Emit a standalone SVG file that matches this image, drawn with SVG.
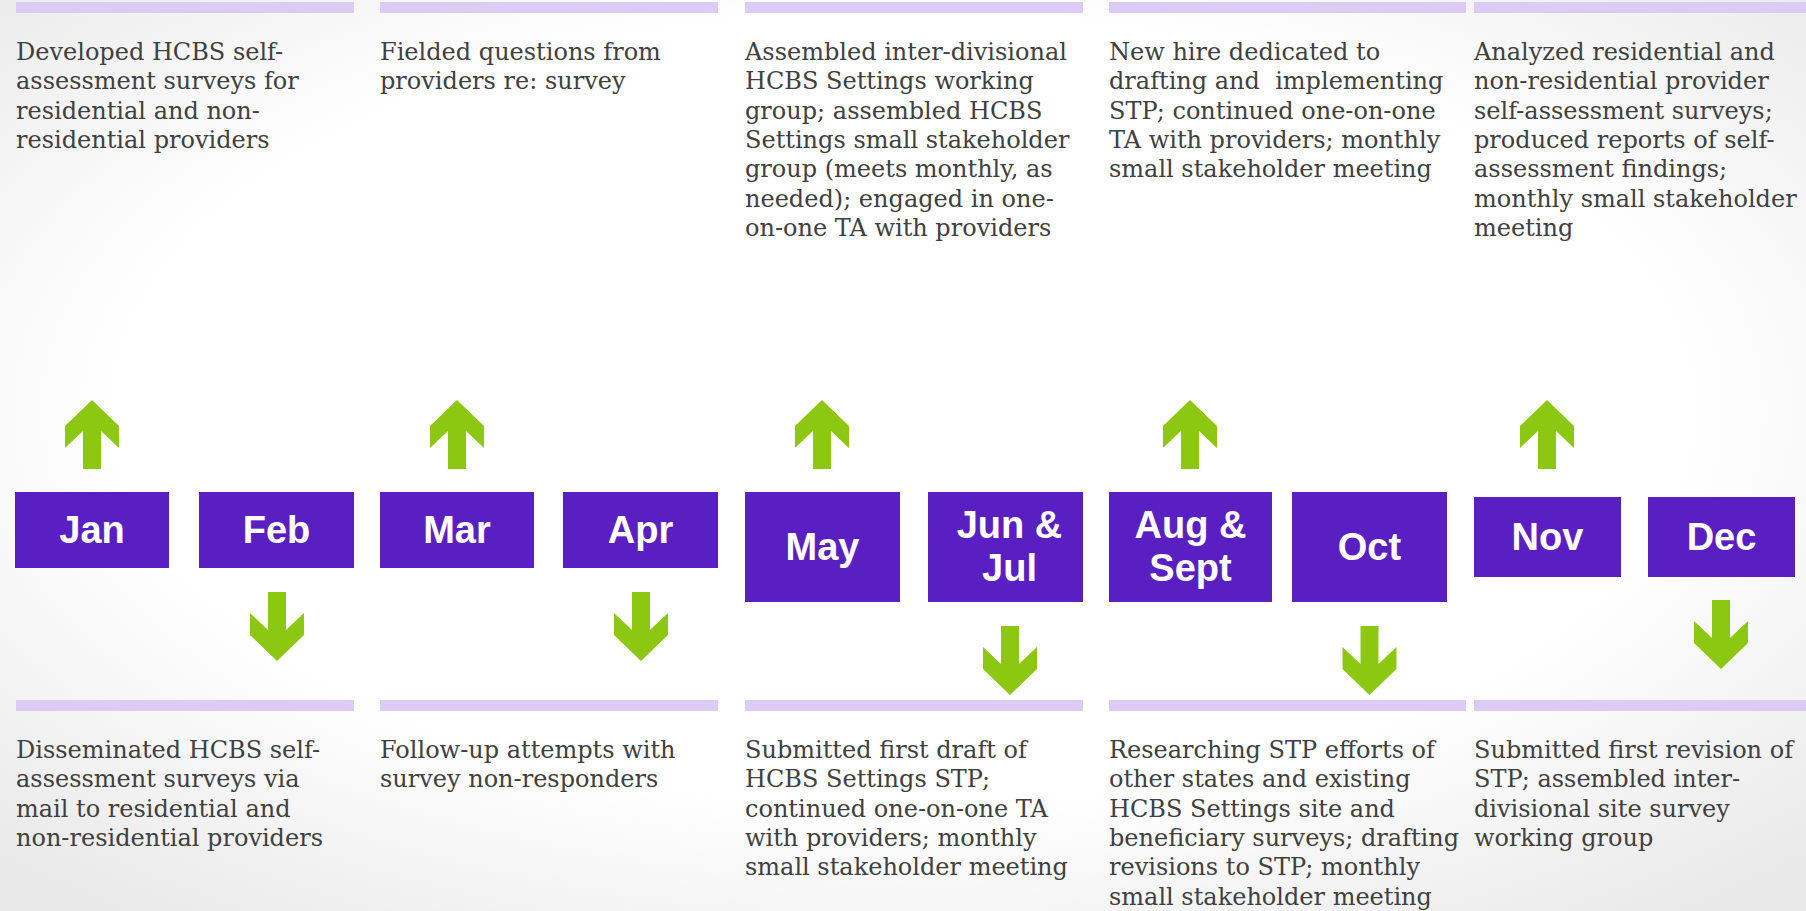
<svg xmlns="http://www.w3.org/2000/svg" width="1806" height="911" viewBox="0 0 1806 911">
<defs>
<radialGradient id="bg" cx="50%" cy="45%" r="70%">
<stop offset="0" stop-color="#ffffff"/>
<stop offset="0.62" stop-color="#ffffff"/>
<stop offset="1" stop-color="#e9e9e9"/>
</radialGradient>
<path id="up" d="M0,0 L27,26 L27,48 L9,31 L9,69 L-9,69 L-9,31 L-27,48 L-27,26 Z"/>
<path id="down" d="M-9,0 L9,0 L9,38 L27,21 L27,43 L0,69 L-27,43 L-27,21 L-9,38 Z"/>
</defs>
<style>
.bar{fill:#dccbf4}
.box{fill:#5a1fc2}
.mon{font-family:"Liberation Sans",Arial,sans-serif;font-weight:bold;font-size:38px;fill:#ffffff;text-anchor:middle}
.desc{font-family:"DejaVu Serif","Liberation Serif",serif;font-size:24px;fill:#404040}
.arr{fill:#8cc812}
</style>
<rect x="0" y="0" width="1806" height="911" fill="url(#bg)"/>

<g id="bars">
<rect class="bar" x="16" y="2" width="338" height="11"/>
<rect class="bar" x="380" y="2" width="338" height="11"/>
<rect class="bar" x="745" y="2" width="338" height="11"/>
<rect class="bar" x="1109" y="2" width="357" height="11"/>
<rect class="bar" x="1474" y="2" width="332" height="11"/>
<rect class="bar" x="16" y="700" width="338" height="11"/>
<rect class="bar" x="380" y="700" width="338" height="11"/>
<rect class="bar" x="745" y="700" width="338" height="11"/>
<rect class="bar" x="1109" y="700" width="357" height="11"/>
<rect class="bar" x="1474" y="700" width="332" height="11"/>
</g>

<g id="top-jan" class="desc">
<text x="16" y="60">Developed HCBS self-</text>
<text x="16" y="89.3">assessment surveys for</text>
<text x="16" y="118.6">residential and non-</text>
<text x="16" y="147.9">residential providers</text>
</g>
<g id="top-mar" class="desc">
<text x="380" y="60">Fielded questions from</text>
<text x="380" y="89.3">providers re: survey</text>
</g>
<g id="top-may" class="desc">
<text x="745" y="60">Assembled inter-divisional</text>
<text x="745" y="89.3">HCBS Settings working</text>
<text x="745" y="118.6">group; assembled HCBS</text>
<text x="745" y="147.9">Settings small stakeholder</text>
<text x="745" y="177.2">group (meets monthly, as</text>
<text x="745" y="206.5">needed); engaged in one-</text>
<text x="745" y="235.8">on-one TA with providers</text>
</g>
<g id="top-aug" class="desc">
<text x="1109" y="60">New hire dedicated to</text>
<text x="1109" y="89.3" xml:space="preserve">drafting and  implementing</text>
<text x="1109" y="118.6">STP; continued one-on-one</text>
<text x="1109" y="147.9">TA with providers; monthly</text>
<text x="1109" y="177.2">small stakeholder meeting</text>
</g>
<g id="top-nov" class="desc">
<text x="1474" y="60">Analyzed residential and</text>
<text x="1474" y="89.3">non-residential provider</text>
<text x="1474" y="118.6">self-assessment surveys;</text>
<text x="1474" y="147.9">produced reports of self-</text>
<text x="1474" y="177.2">assessment findings;</text>
<text x="1474" y="206.5">monthly small stakeholder</text>
<text x="1474" y="235.8">meeting</text>
</g>

<g id="bottom-feb" class="desc">
<text x="16" y="758">Disseminated HCBS self-</text>
<text x="16" y="787.3">assessment surveys via</text>
<text x="16" y="816.6">mail to residential and</text>
<text x="16" y="845.9">non-residential providers</text>
</g>
<g id="bottom-apr" class="desc">
<text x="380" y="758">Follow-up attempts with</text>
<text x="380" y="787.3">survey non-responders</text>
</g>
<g id="bottom-jun" class="desc">
<text x="745" y="758">Submitted first draft of</text>
<text x="745" y="787.3">HCBS Settings STP;</text>
<text x="745" y="816.6">continued one-on-one TA</text>
<text x="745" y="845.9">with providers; monthly</text>
<text x="745" y="875.2">small stakeholder meeting</text>
</g>
<g id="bottom-oct" class="desc">
<text x="1109" y="758">Researching STP efforts of</text>
<text x="1109" y="787.3">other states and existing</text>
<text x="1109" y="816.6">HCBS Settings site and</text>
<text x="1109" y="845.9">beneficiary surveys; drafting</text>
<text x="1109" y="875.2">revisions to STP; monthly</text>
<text x="1109" y="904.5">small stakeholder meeting</text>
</g>
<g id="bottom-dec" class="desc">
<text x="1474" y="758">Submitted first revision of</text>
<text x="1474" y="787.3">STP; assembled inter-</text>
<text x="1474" y="816.6">divisional site survey</text>
<text x="1474" y="845.9">working group</text>
</g>

<g id="month-jan"><rect class="box" x="15" y="492" width="154" height="76"/><text class="mon" x="92" y="543">Jan</text></g>
<g id="month-feb"><rect class="box" x="199" y="492" width="155" height="76"/><text class="mon" x="276.5" y="543">Feb</text></g>
<g id="month-mar"><rect class="box" x="380" y="492" width="154" height="76"/><text class="mon" x="457" y="543">Mar</text></g>
<g id="month-apr"><rect class="box" x="563" y="492" width="155" height="76"/><text class="mon" x="640.5" y="543">Apr</text></g>
<g id="month-may"><rect class="box" x="745" y="492" width="155" height="110"/><text class="mon" x="822.5" y="560">May</text></g>
<g id="month-junjul"><rect class="box" x="928" y="492" width="155" height="110"/><text class="mon" x="1009.5" y="538">Jun &amp;</text><text class="mon" x="1009.5" y="581">Jul</text></g>
<g id="month-augsept"><rect class="box" x="1109" y="492" width="163" height="110"/><text class="mon" x="1190.5" y="538">Aug &amp;</text><text class="mon" x="1190.5" y="581">Sept</text></g>
<g id="month-oct"><rect class="box" x="1292" y="492" width="155" height="110"/><text class="mon" x="1369.5" y="560">Oct</text></g>
<g id="month-nov"><rect class="box" x="1474" y="497" width="147" height="80"/><text class="mon" x="1547.5" y="550">Nov</text></g>
<g id="month-dec"><rect class="box" x="1648" y="497" width="147" height="80"/><text class="mon" x="1721.5" y="550">Dec</text></g>

<g id="connectors" class="arr">
<use href="#up" x="92" y="400"/>
<use href="#up" x="457" y="400"/>
<use href="#up" x="822" y="400"/>
<use href="#up" x="1190" y="400"/>
<use href="#up" x="1547" y="400"/>
<use href="#down" x="277" y="592"/>
<use href="#down" x="641" y="592"/>
<use href="#down" x="1010" y="626"/>
<use href="#down" x="1369.5" y="626"/>
<use href="#down" x="1721" y="600"/>
</g>
</svg>
